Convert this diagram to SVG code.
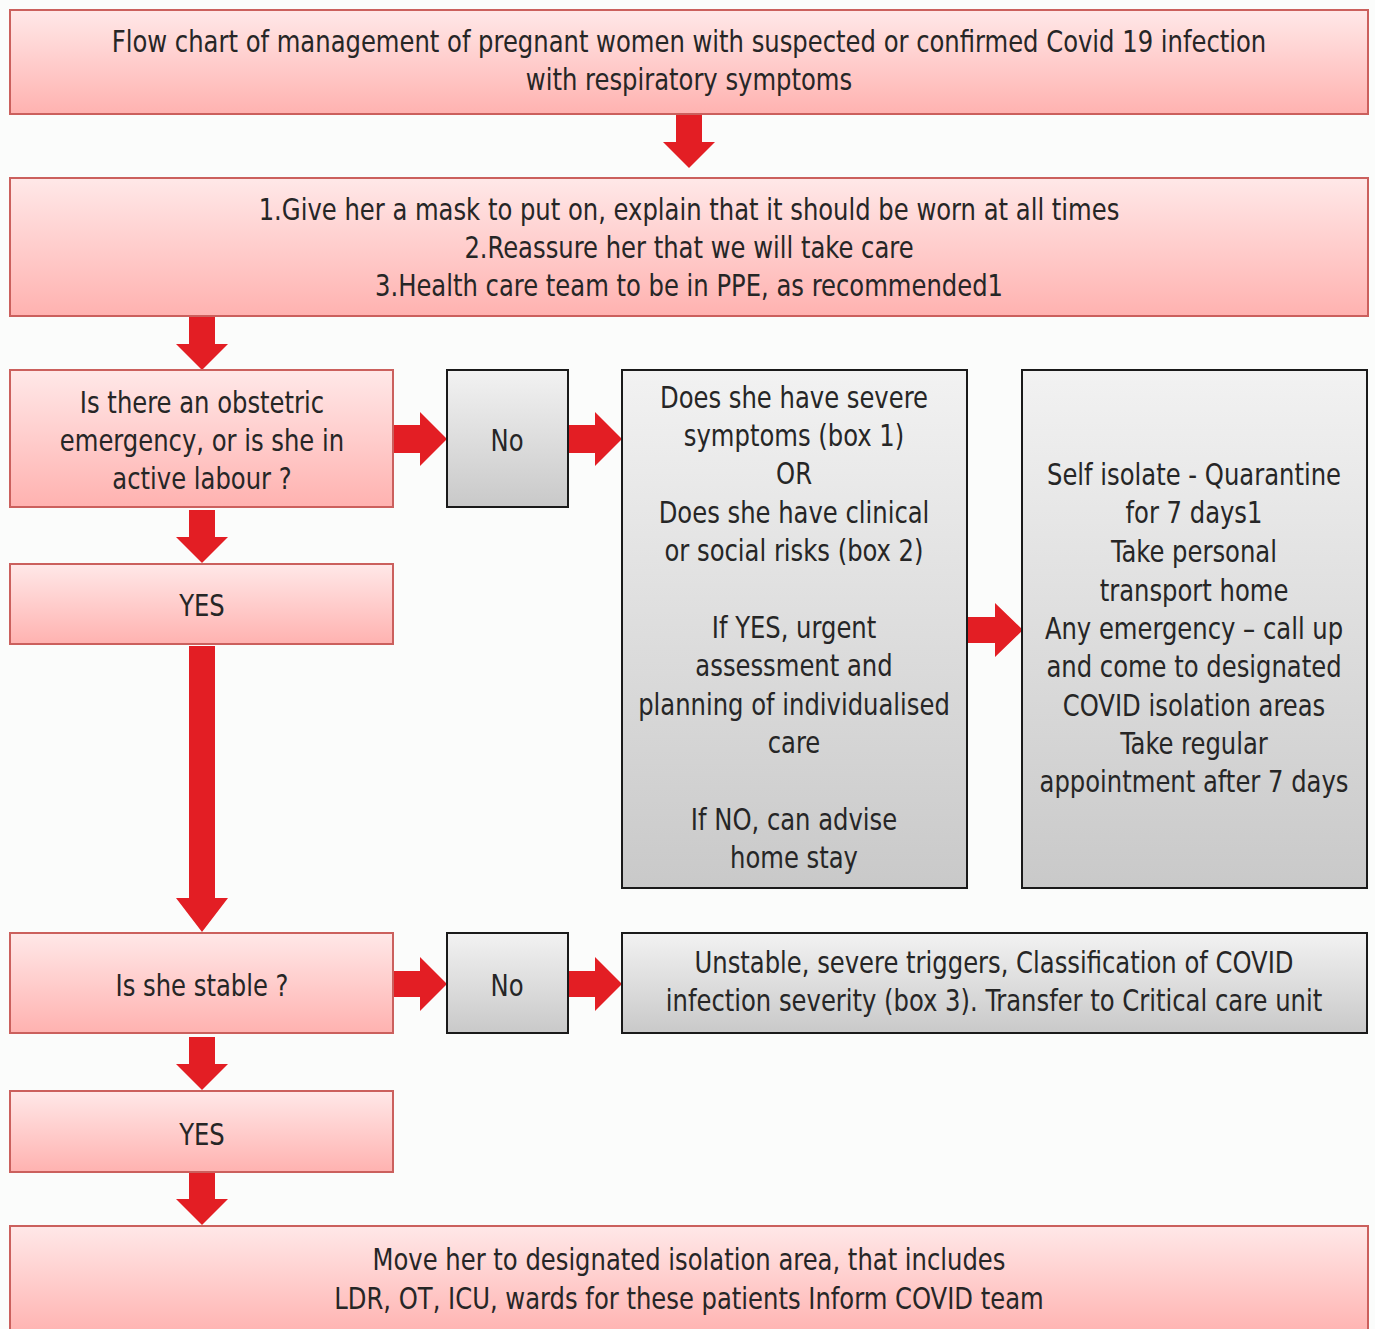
<svg xmlns="http://www.w3.org/2000/svg" width="1375" height="1329" viewBox="0 0 1375 1329">
<defs>
<linearGradient id="pink" x1="0" y1="0" x2="0" y2="1">
<stop offset="0" stop-color="#ffe8e8"/>
<stop offset="1" stop-color="#ffb2b0"/>
</linearGradient>
<linearGradient id="gray" x1="0" y1="0" x2="0" y2="1">
<stop offset="0" stop-color="#f2f2f2"/>
<stop offset="1" stop-color="#c9c9c9"/>
</linearGradient>
<style>
.p{fill:url(#pink);stroke:#cb605d;stroke-width:2}
.g{fill:url(#gray);stroke:#1a1a1a;stroke-width:2}
.a{fill:#e31e24}
text{font-family:"DejaVu Sans Condensed","Liberation Sans",sans-serif;font-size:30px;fill:#262626;text-anchor:middle}
</style>
</defs>
<rect width="1375" height="1329" fill="#fbfcfb"/>
<g id="connectors">
<polygon class="a" points="676,114 702,114 702,142 715,142 689,168 663,142 676,142"/>
<polygon class="a" points="189,316 215,316 215,344 228,344 202,370 176,344 189,344"/>
<polygon class="a" points="393,425 420,425 420,412 447,439 420,466 420,453 393,453"/>
<polygon class="a" points="568,425 595,425 595,412 622,439 595,466 595,453 568,453"/>
<polygon class="a" points="967,617 995,617 995,603 1023,630 995,657 995,643 967,643"/>
<polygon class="a" points="189,510 215,510 215,537 228,537 202,563 176,537 189,537"/>
<polygon class="a" points="189,646 215,646 215,898 228,898 202,932 176,898 189,898"/>
<polygon class="a" points="393,971 420,971 420,957 447,984 420,1011 420,997 393,997"/>
<polygon class="a" points="568,971 595,971 595,957 622,984 595,1011 595,997 568,997"/>
<polygon class="a" points="189,1037 215,1037 215,1064 228,1064 202,1090 176,1064 189,1064"/>
<polygon class="a" points="189,1173 215,1173 215,1199 228,1199 202,1225 176,1199 189,1199"/>
</g>
<g id="n1"><rect class="p" x="10" y="10" width="1358" height="104"/>
<text transform="translate(689 52) scale(0.9 1)">Flow chart of management of pregnant women with suspected or confirmed Covid 19 infection</text>
<text transform="translate(689 90) scale(0.9 1)">with respiratory symptoms</text></g>
<g id="n2"><rect class="p" x="10" y="178" width="1358" height="138"/>
<text transform="translate(689 220) scale(0.9 1)">1.Give her a mask to put on, explain that it should be worn at all times</text>
<text transform="translate(689 258) scale(0.9 1)">2.Reassure her that we will take care</text>
<text transform="translate(689 296) scale(0.9 1)">3.Health care team to be in PPE, as recommended1</text></g>
<g id="n3"><rect class="p" x="10" y="370" width="383" height="137"/>
<text transform="translate(202 413) scale(0.9 1)">Is there an obstetric</text>
<text transform="translate(202 451) scale(0.9 1)">emergency, or is she in</text>
<text transform="translate(202 489) scale(0.9 1)">active labour ?</text></g>
<g id="n4"><rect class="g" x="447" y="370" width="121" height="137"/>
<text transform="translate(507 451) scale(0.9 1)">No</text></g>
<g id="n5"><rect class="g" x="622" y="370" width="345" height="518"/>
<text transform="translate(794 408) scale(0.9 1)">Does she have severe</text>
<text transform="translate(794 446) scale(0.9 1)">symptoms (box 1)</text>
<text transform="translate(794 484) scale(0.9 1)">OR</text>
<text transform="translate(794 523) scale(0.9 1)">Does she have clinical</text>
<text transform="translate(794 561) scale(0.9 1)">or social risks (box 2)</text>
<text transform="translate(794 638) scale(0.9 1)">If YES, urgent</text>
<text transform="translate(794 676) scale(0.9 1)">assessment and</text>
<text transform="translate(794 715) scale(0.9 1)">planning of individualised</text>
<text transform="translate(794 753) scale(0.9 1)">care</text>
<text transform="translate(794 830) scale(0.9 1)">If NO, can advise</text>
<text transform="translate(794 868) scale(0.9 1)">home stay</text></g>
<g id="n6"><rect class="g" x="1022" y="370" width="345" height="518"/>
<text transform="translate(1194 485) scale(0.9 1)">Self isolate - Quarantine</text>
<text transform="translate(1194 523) scale(0.9 1)">for 7 days1</text>
<text transform="translate(1194 562) scale(0.9 1)">Take personal</text>
<text transform="translate(1194 601) scale(0.9 1)">transport home</text>
<text transform="translate(1194 639) scale(0.9 1)">Any emergency – call up</text>
<text transform="translate(1194 677) scale(0.9 1)">and come to designated</text>
<text transform="translate(1194 716) scale(0.9 1)">COVID isolation areas</text>
<text transform="translate(1194 754) scale(0.9 1)">Take regular</text>
<text transform="translate(1194 792) scale(0.9 1)">appointment after 7 days</text></g>
<g id="n7"><rect class="p" x="10" y="564" width="383" height="80"/>
<text transform="translate(202 616) scale(0.9 1)">YES</text></g>
<g id="n8"><rect class="p" x="10" y="933" width="383" height="100"/>
<text transform="translate(202 996) scale(0.9 1)">Is she stable ?</text></g>
<g id="n9"><rect class="g" x="447" y="933" width="121" height="100"/>
<text transform="translate(507 996) scale(0.9 1)">No</text></g>
<g id="n10"><rect class="g" x="622" y="933" width="745" height="100"/>
<text transform="translate(994 973) scale(0.9 1)">Unstable, severe triggers, Classification of COVID</text>
<text transform="translate(994 1011) scale(0.9 1)">infection severity (box 3). Transfer to Critical care unit</text></g>
<g id="n11"><rect class="p" x="10" y="1091" width="383" height="81"/>
<text transform="translate(202 1145) scale(0.9 1)">YES</text></g>
<g id="n12"><rect class="p" x="10" y="1226" width="1358" height="110"/>
<text transform="translate(689 1270) scale(0.9 1)">Move her to designated isolation area, that includes</text>
<text transform="translate(689 1309) scale(0.9 1)">LDR, OT, ICU, wards for these patients Inform COVID team</text></g>
</svg>
